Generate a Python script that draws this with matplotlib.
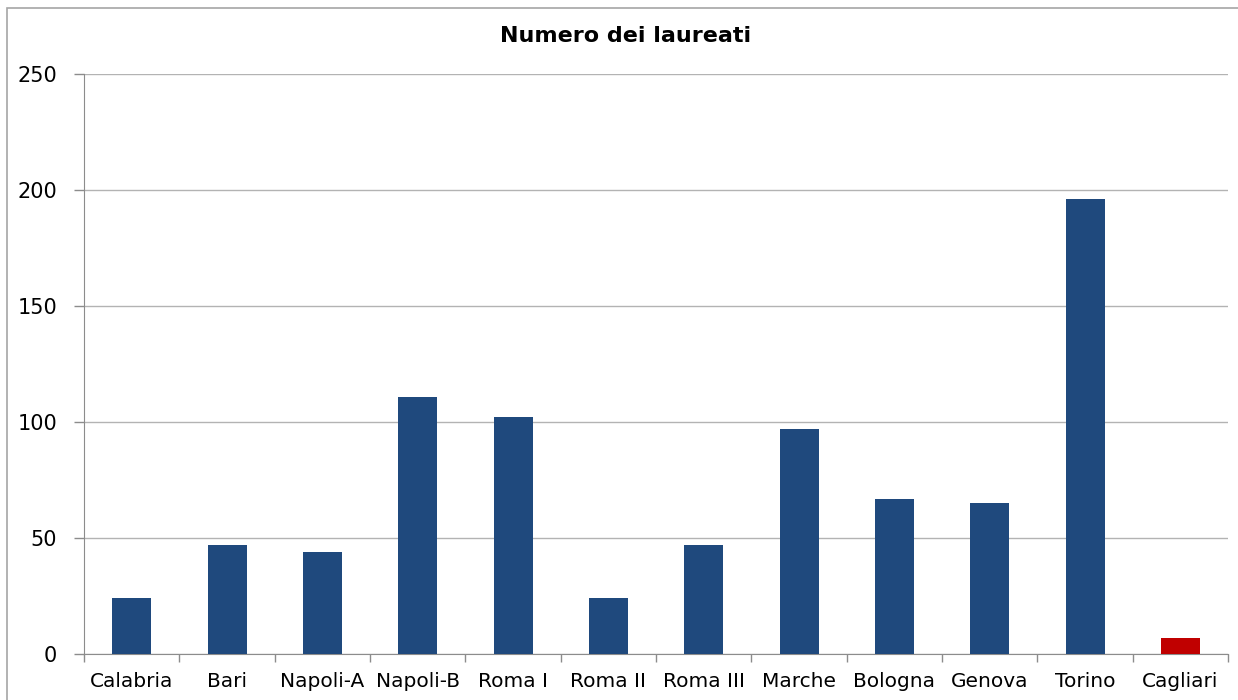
import matplotlib.pyplot as plt
from matplotlib.patches import Rectangle

# Data
categories = ["Calabria", "Bari", "Napoli-A", "Napoli-B", "Roma I", "Roma II",
              "Roma III", "Marche", "Bologna", "Genova", "Torino", "Cagliari"]
laureati = [24, 47, 44, 111, 102, 24, 47, 97, 67, 65, 196, 7]
highlight = "Cagliari"
y_ticks = [0, 50, 100, 150, 200, 250]

plt.rcParams["font.family"] = ["DejaVu Sans"]

fig = plt.figure(figsize=(12.38, 7), dpi=100)
ax = fig.add_axes([0.0679, 0.0657, 0.9241, 0.8283])

# Chart area border (Excel style)
fig.patches.append(Rectangle((7 / 1238, -0.01), 1.0, 1 - 8 / 700 + 0.01,
                             transform=fig.transFigure, fill=False,
                             edgecolor="#A6A6A6", linewidth=1.2))

colors = ["#C00000" if c == highlight else "#1F497D" for c in categories]
x = list(range(len(categories)))
ax.bar(x, laureati, width=0.41, color=colors, zorder=3)

ax.set_xlim(-0.5, len(categories) - 0.5)
ax.set_ylim(0, 250)
ax.set_yticks(y_ticks)
ax.set_xticks([i - 0.5 for i in range(len(categories) + 1)], minor=False)
ax.set_xticklabels([])
ax.set_xticks(x, minor=True)
ax.set_xticklabels(categories, minor=True)

ax.tick_params(axis="x", which="major", length=6, color="#8C8C8C", width=1)
ax.tick_params(axis="x", which="minor", length=0, pad=13, labelsize=14.5)
ax.tick_params(axis="y", length=7, color="#8C8C8C", width=1, pad=12.5, labelsize=15)

ax.grid(axis="y", color="#B3B3B3", linewidth=1, zorder=0)
for side in ["top", "right"]:
    ax.spines[side].set_visible(False)
for side in ["left", "bottom"]:
    ax.spines[side].set_color("#8C8C8C")

fig.text(626 / 1238, 1 - 36 / 700, "Numero dei laureati", ha="center",
         va="center", fontsize=16, fontweight="bold")

fig.savefig("out.png", dpi=100)
